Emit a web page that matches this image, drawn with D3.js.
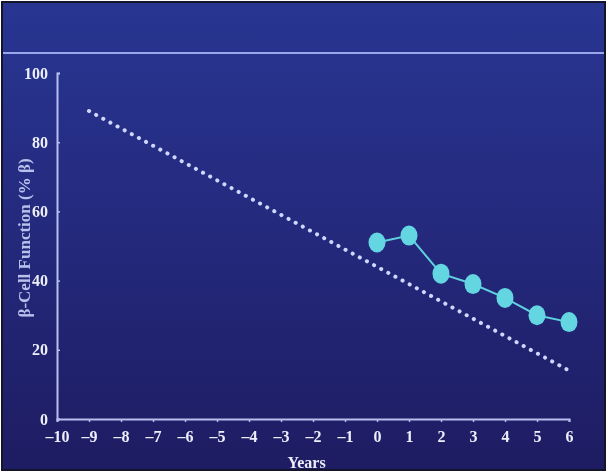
<!DOCTYPE html>
<html><head><meta charset="utf-8">
<script src="https://cdn.jsdelivr.net/npm/d3@7"></script>
<style>html,body{margin:0;padding:0;background:#fff;}svg{display:block;}</style>
</head><body>
<script>
const years = [0, 1, 2, 3, 4, 5, 6];
const betaCell = [51, 53, 42, 39, 35, 30, 28];
const trendYears = [-9, 6];
const trendValues = [89, 14];
const xTicks = [-10,-9,-8,-7,-6,-5,-4,-3,-2,-1,0,1,2,3,4,5,6];
const yTicks = [0, 20, 40, 60, 80, 100];

const W = 607, H = 472;
const svg = d3.select("body").append("svg").attr("width", W).attr("height", H);
const defs = svg.append("defs");
const g = defs.append("linearGradient").attr("id","bg").attr("x1",0).attr("y1",0).attr("x2",0).attr("y2",1);
g.append("stop").attr("offset","0%").attr("stop-color","#283692");
g.append("stop").attr("offset","50%").attr("stop-color","#24297c");
g.append("stop").attr("offset","100%").attr("stop-color","#1e1c62");
const blur = defs.append("filter").attr("id","soft");
blur.append("feGaussianBlur").attr("stdDeviation",0.6);
const tblur = defs.append("filter").attr("id","tsoft");
tblur.append("feGaussianBlur").attr("stdDeviation",0.4);

svg.append("rect").attr("x",2).attr("y",2).attr("width",W-4).attr("height",H-4)
  .attr("fill","url(#bg)").attr("stroke","#15152a").attr("stroke-width",2);
svg.append("line").attr("x1",3).attr("x2",W-3).attr("y1",53).attr("y2",53)
  .attr("stroke","#9aa6ea").attr("stroke-width",2);

const x = d3.scaleLinear().domain([-10, 6]).range([57, 569]);
const y = d3.scaleLinear().domain([0, 100]).range([419, 73]);

const font = "'Liberation Serif', 'Times New Roman', serif";
const axisColor = "#b8bfee";

// axes
const xAxis = svg.append("g").attr("transform",`translate(0,${y(0)})`)
  .call(d3.axisBottom(x).tickValues(xTicks).tickSize(3).tickPadding(9).tickFormat(d => d < 0 ? "\u2013" + Math.abs(d) : d));
const yAxis = svg.append("g").attr("transform",`translate(${x(-10)},0)`)
  .call(d3.axisLeft(y).tickValues(yTicks).tickSize(-3).tickPadding(9));
[xAxis, yAxis].forEach(a => {
  a.select(".domain").attr("stroke", axisColor).attr("stroke-width", 2);
  a.selectAll(".tick line").attr("stroke", axisColor).attr("stroke-width", 1.5);
  a.selectAll("text").attr("fill","#eceef9").attr("font-family",font)
    .attr("font-weight","bold").attr("font-size",16).attr("filter","url(#tsoft)");
});
yAxis.selectAll(".tick text").attr("dy","0.32em");

// trend dotted line
svg.append("line")
  .attr("x1", x(trendYears[0])).attr("y1", y(trendValues[0]))
  .attr("x2", x(trendYears[1])).attr("y2", y(trendValues[1]))
  .attr("stroke","#cfd6ff").attr("stroke-width",4).attr("stroke-linecap","round")
  .attr("stroke-dasharray","0.1 8").attr("filter","url(#soft)");

// data line & points
const line = d3.line().x((d,i) => x(years[i])).y(d => y(d));
svg.append("path").datum(betaCell).attr("d", line)
  .attr("fill","none").attr("stroke","#5fd0e0").attr("stroke-width",2);
svg.selectAll("ellipse.pt").data(betaCell).enter().append("ellipse")
  .attr("class","pt")
  .attr("cx",(d,i) => x(years[i])).attr("cy", d => y(d))
  .attr("rx",8.5).attr("ry",10)
  .attr("fill","#63d6e2").attr("filter","url(#soft)");

// axis titles
svg.append("text").attr("x", x(-2.2)).attr("y", 468).attr("text-anchor","middle")
  .attr("fill","#eceef9").attr("font-family",font).attr("font-weight","bold").attr("font-size",16)
  .attr("filter","url(#tsoft)")
  .text("Years");
svg.append("text").attr("transform","translate(30,238) rotate(-90)").attr("text-anchor","middle")
  .attr("fill","#b9c0ec").attr("font-family",font).attr("font-weight","bold").attr("font-size",17)
  .attr("filter","url(#tsoft)")
  .text("\u03B2-Cell Function (% \u03B2)");
</script>
</body></html>
